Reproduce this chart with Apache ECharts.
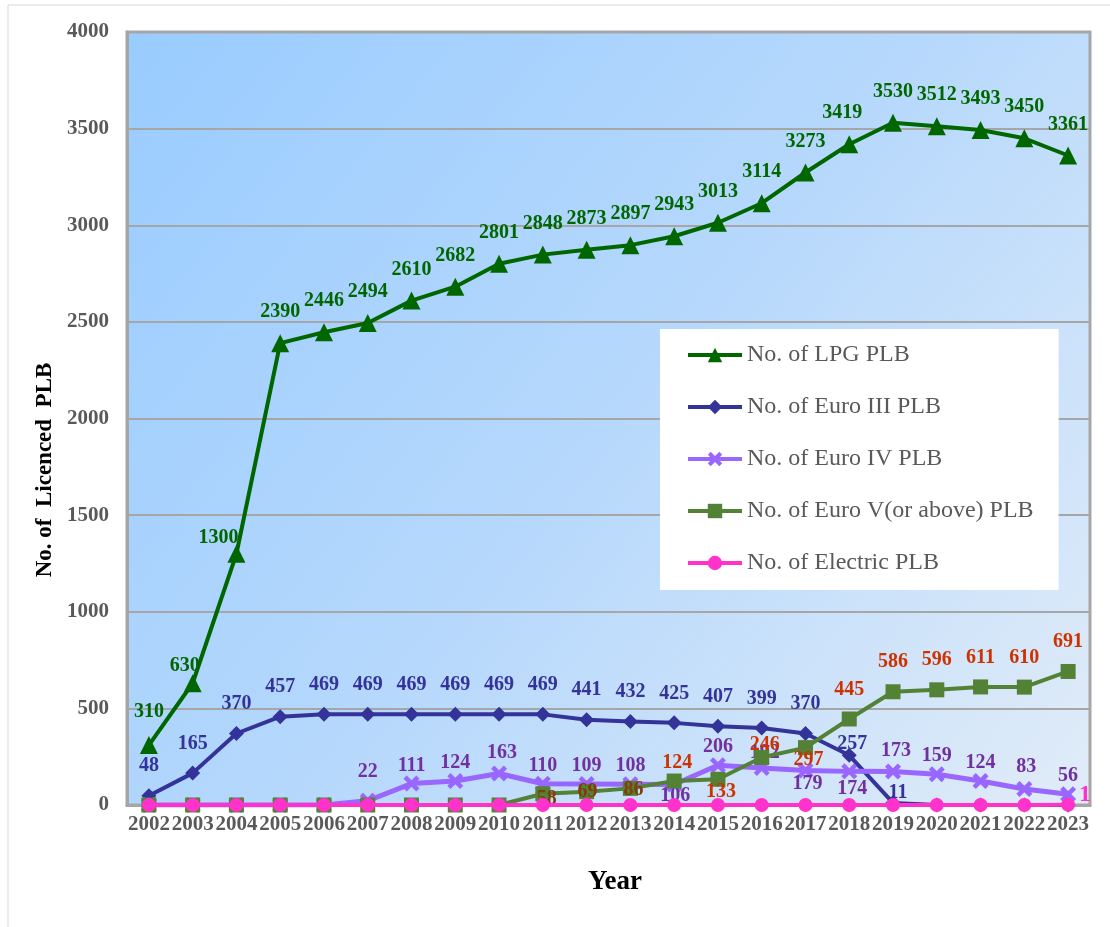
<!DOCTYPE html>
<html>
<head>
<meta charset="utf-8">
<script src="https://cdn.jsdelivr.net/npm/echarts@6/dist/echarts.min.js"></script>
<style>html,body{margin:0;padding:0;background:#fff;}#c{width:1110px;height:927px;}</style>
</head>
<body>
<div id="c"></div>
<script>
const years = ['2002','2003','2004','2005','2006','2007','2008','2009','2010','2011','2012','2013','2014','2015','2016','2017','2018','2019','2020','2021','2022','2023'];
const lpg = [310,630,1300,2390,2446,2494,2610,2682,2801,2848,2873,2897,2943,3013,3114,3273,3419,3530,3512,3493,3450,3361];
const euro3 = [48,165,370,457,469,469,469,469,469,469,441,432,425,407,399,370,257,11,0,0,0,0];
const euro4 = [0,0,0,0,0,22,111,124,163,110,109,108,106,206,192,179,174,173,159,124,83,56];
const euro5 = [0,0,0,0,0,0,0,0,0,58,69,86,124,133,246,297,445,586,596,611,610,691];
const electric = [0,0,0,0,0,0,0,0,0,0,0,0,0,0,0,0,0,0,0,0,0,1];
const seriesNames = ['No. of LPG PLB','No. of Euro III PLB','No. of Euro IV PLB','No. of Euro V(or above) PLB','No. of Electric PLB'];

const SERIF = '"Liberation Serif","Times New Roman",serif';
const xPath = 'path://M0,2 L2,0 L5,3 L8,0 L10,2 L7,5 L10,8 L8,10 L5,7 L2,10 L0,8 L3,5 Z';

// per-point label adjustments (styling only)
const tweaks = {
  0: {0:{offset:[0,-2]},1:{offset:[-8,14]},2:{offset:[-18,15]},16:{offset:[-7,0]}},
  1: {16:{offset:[3,18]},17:{offset:[5,19]}},
  2: {5:{offset:[0,-11]},8:{offset:[3,-3]},12:{offset:[1,29]},14:{offset:[3,3]},15:{offset:[2,31]},16:{offset:[3,35]},17:{offset:[3,-3]},20:{offset:[2,-4]}},
  3: {9:{position:'inside',offset:[4,5],color:'#843c0c'},10:{position:'inside',offset:[1,0],color:'#843c0c'},11:{position:'inside',offset:[3,1],color:'#843c0c'},
      12:{offset:[3,11]},13:{offset:[3,42]},14:{offset:[3,17]},15:{offset:[3,42]}},
  4: {21:{position:'right',distance:4,offset:[0,-10],fontSize:24}}
};

function build(values, si) {
  return values.map((v, i) => {
    const t = tweaks[si][i];
    return t ? {value: v, label: t} : v;
  });
}

const styles = [
  {color:'#006600', labelColor:'#006600', symbol:'triangle', size:18, width:4, dist:12},
  {color:'#333399', labelColor:'#333399', symbol:'diamond', size:15, width:4, dist:12},
  {color:'#9966ff', labelColor:'#7030a0', symbol:xPath, size:16, width:5, dist:0},
  {color:'#538135', labelColor:'#cc3300', symbol:'rect', size:15, width:4, dist:12},
  {color:'#ff33cc', labelColor:'#ff33cc', symbol:'circle', size:14, width:4, dist:12}
];
const allData = [lpg, euro3, euro4, euro5, electric];

const series = allData.map((vals, si) => ({
  name: seriesNames[si],
  type: 'line',
  data: build(vals, si),
  symbol: styles[si].symbol,
  symbolSize: styles[si].size,
  showAllSymbol: true,
  lineStyle: {color: styles[si].color, width: styles[si].width},
  itemStyle: {color: styles[si].color},
  label: {
    show: true,
    position: 'top',
    distance: styles[si].dist,
    color: styles[si].labelColor,
    fontFamily: SERIF,
    fontWeight: 'bold',
    fontSize: 20,
    formatter: p => (p.value === 0 ? '' : String(p.value))
  },
  emphasis: {disabled: true},
  animation: false,
  z: 2 + si
}));

const chart = echarts.init(document.getElementById('c'), null, {renderer: 'canvas'});
chart.setOption({
  animation: false,
  backgroundColor: '#ffffff',
  grid: {
    left: 127, top: 32, right: 20, bottom: 122,
    show: true,
    borderColor: '#a6a6a6',
    borderWidth: 3,
    backgroundColor: {
      type: 'linear', x: 0, y: 0, x2: 1, y2: 1,
      colorStops: [{offset: 0, color: '#99ccff'}, {offset: 0.5, color: '#b6d8fc'}, {offset: 1, color: '#e1ecf8'}]
    }
  },
  legend: {
    orient: 'vertical',
    left: 660, top: 329,
    padding: [13, 25, 14, 26],
    backgroundColor: '#ffffff',
    itemWidth: 54,
    itemHeight: 18,
    itemGap: 26,
    selectedMode: false,
    lineStyle: {width: 4},
    textStyle: {color: '#595959', fontFamily: SERIF, fontSize: 24, lineHeight: 26},
    data: seriesNames
  },
  xAxis: {
    type: 'category',
    data: years,
    boundaryGap: true,
    axisLine: {show: true, lineStyle: {color: '#a6a6a6', width: 3}},
    axisTick: {show: false},
    axisLabel: {color: '#595959', fontFamily: SERIF, fontWeight: 'bold', fontSize: 21, margin: 9, interval: 0}
  },
  yAxis: {
    type: 'value',
    min: 0, max: 4000, interval: 500,
    axisLine: {show: true, lineStyle: {color: '#a6a6a6', width: 3}},
    axisTick: {show: false},
    splitLine: {show: true, lineStyle: {color: '#a6a6a6', width: 2}},
    axisLabel: {color: '#595959', fontFamily: SERIF, fontWeight: 'bold', fontSize: 21, margin: 18, formatter: v => String(v)}
  },
  graphic: [
    {type: 'rect', silent: true, shape: {x: 8, y: 5, width: 1300, height: 1100}, style: {fill: 'none', stroke: '#d9d9d9', lineWidth: 1}, z: -10},
    {type: 'text', x: 45, y: 470, rotation: Math.PI / 2, silent: true,
      style: {text: 'No. of  Licenced  PLB', font: 'bold 23px ' + SERIF, fill: '#000000', textAlign: 'center', textVerticalAlign: 'middle'}},
    {type: 'text', x: 615, y: 882, silent: true,
      style: {text: 'Year', font: 'bold 27px ' + SERIF, fill: '#000000', textAlign: 'center', textVerticalAlign: 'middle'}}
  ],
  series: series
});
</script>
</body>
</html>
